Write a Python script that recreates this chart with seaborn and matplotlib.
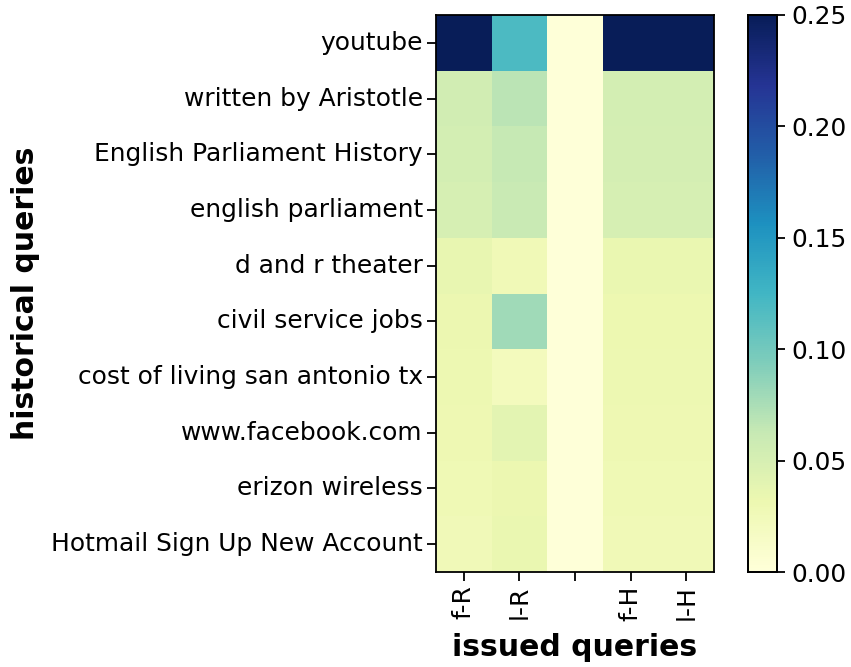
import numpy as np
import pandas as pd
import seaborn as sns
import matplotlib
matplotlib.use("Agg")
import matplotlib.pyplot as plt

historical = [
    "youtube",
    "written by Aristotle",
    "English Parliament History",
    "english parliament",
    "d and r theater",
    "civil service jobs",
    "cost of living san antonio tx",
    "www.facebook.com",
    "erizon wireless",
    "Hotmail Sign Up New Account",
]
issued = ["f-R", "l-R", "", "f-H", "l-H"]

f_R = [0.26, 0.054, 0.053, 0.050, 0.036, 0.033, 0.031, 0.030, 0.029, 0.026]
l_R = [0.120, 0.068, 0.063, 0.061, 0.027, 0.080, 0.022, 0.040, 0.033, 0.034]
blank = [0.001, 0.001, 0.001, 0.001, 0.001, 0.001, 0.001, 0.001, 0.001, 0.001]
f_H = [0.26, 0.053, 0.052, 0.050, 0.034, 0.032, 0.031, 0.030, 0.029, 0.027]
l_H = [0.26, 0.053, 0.052, 0.050, 0.034, 0.032, 0.031, 0.030, 0.029, 0.027]

df = pd.DataFrame({"f-R": f_R, "l-R": l_R, " ": blank, "f-H": f_H, "l-H": l_H},
                  index=historical)

fig = plt.figure(figsize=(8.51, 6.67), dpi=100)
ax = fig.add_axes([436 / 851, 1 - 572 / 667, 278 / 851, 557 / 667])
cax = fig.add_axes([748 / 851, 1 - 572 / 667, 29 / 851, 557 / 667])

sns.heatmap(df, ax=ax, cbar_ax=cax, cmap="YlGnBu", vmin=0, vmax=0.25,
            cbar_kws={"format": "%.2f", "ticks": [0, 0.05, 0.1, 0.15, 0.2, 0.25]})

ax.set_xticklabels(issued, rotation=90, fontsize=17.9)
ax.set_yticklabels(historical, rotation=0, fontsize=17.9)
ax.tick_params(length=6.5, width=1.3, pad=3)
for s in ax.spines.values():
    s.set_visible(True)
    s.set_linewidth(1.3)
ax.set_xlabel("issued queries", fontsize=21.5, fontweight="bold", labelpad=9)
ax.set_ylabel("historical queries", fontsize=21.5, fontweight="bold", labelpad=8)

cax.tick_params(labelsize=17.9, length=6, width=1.3, pad=4)
for s in cax.spines.values():
    s.set_visible(True)
    s.set_linewidth(1.3)

fig.savefig("out.png", dpi=100)
